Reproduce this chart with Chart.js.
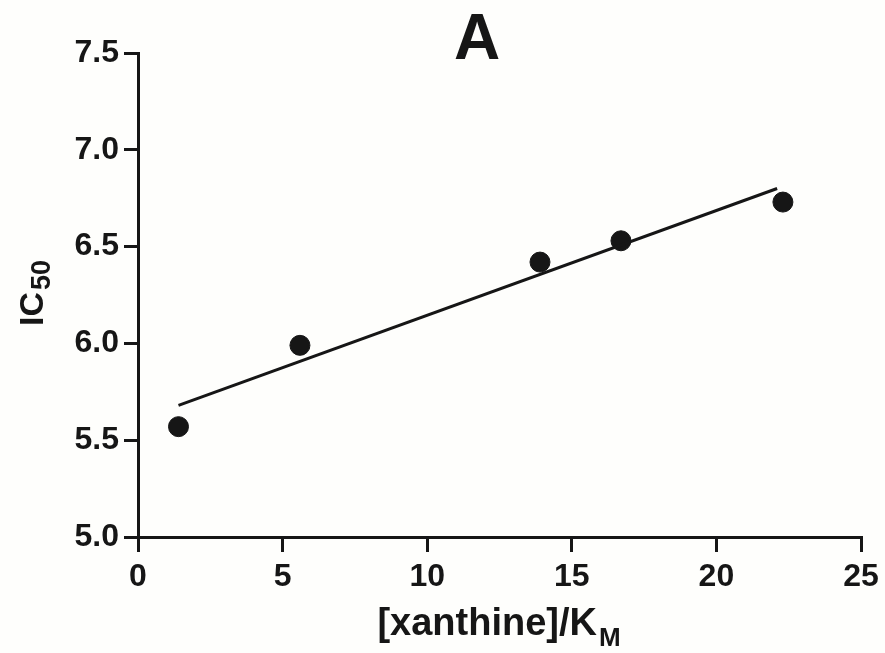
<!DOCTYPE html>
<html>
<head>
<meta charset="utf-8">
<script src="https://cdn.jsdelivr.net/npm/chart.js@4/dist/chart.umd.min.js"></script>
<style>
  html, body { margin: 0; padding: 0; background: #fefefc; }
  #wrap { width: 885px; height: 653px; }
</style>
</head>
<body>
<div id="wrap"><canvas id="myChart" width="885" height="653"></canvas></div>
<script>
// measured points
var xanthine = [1.4, 5.6, 13.9, 16.7, 22.3];
var ic50 = [5.57, 5.99, 6.42, 6.53, 6.73];
// regression line end points as drawn
var fitX = [1.4, 22.1];
var fitY = [5.68, 6.80];

var xTicks = [0, 5, 10, 15, 20, 25];
var yTicks = [5.0, 5.5, 6.0, 6.5, 7.0, 7.5];

var ink = '#161616';
var font = 'Arial, "Liberation Sans", sans-serif';

var pts = [], fit = [];
for (var i = 0; i < xanthine.length; i++) pts.push({x: xanthine[i], y: ic50[i]});
for (var j = 0; j < fitX.length; j++) fit.push({x: fitX[j], y: fitY[j]});

// draws the panel letter and the axis titles (they need subscripts)
var labelsPlugin = {
  id: 'labels',
  afterDraw: function (chart) {
    var ctx = chart.ctx;
    ctx.save();
    ctx.fillStyle = ink;

    ctx.font = 'bold 64px ' + font;
    ctx.textAlign = 'center';
    ctx.textBaseline = 'alphabetic';
    ctx.fillText('A', 477, 59);

    // x title
    ctx.textAlign = 'left';
    ctx.font = 'bold 38px ' + font;
    var main = '[xanthine]/K';
    var w = ctx.measureText(main).width;
    ctx.font = 'bold 26px ' + font;
    var ws = ctx.measureText('M').width;
    var x0 = 499 - (w + ws + 2) / 2;
    ctx.font = 'bold 38px ' + font;
    ctx.fillText(main, x0, 635);
    ctx.font = 'bold 26px ' + font;
    ctx.fillText('M', x0 + w + 2, 646);

    // y title, rotated
    ctx.translate(43, 293);
    ctx.rotate(-Math.PI / 2);
    ctx.font = 'bold 34px ' + font;
    var w2 = ctx.measureText('IC').width;
    ctx.font = 'bold 27px ' + font;
    var ws2 = ctx.measureText('50').width;
    var y0 = -(w2 + ws2 + 2) / 2;
    ctx.font = 'bold 34px ' + font;
    ctx.fillText('IC', y0, 0);
    ctx.font = 'bold 27px ' + font;
    ctx.fillText('50', y0 + w2 + 2, 7);
    ctx.restore();
  }
};

var config = {
  type: 'scatter',
  data: {
    datasets: [{
      label: 'fit',
      data: fit,
      showLine: true,
      borderColor: ink,
      borderWidth: 3,
      pointRadius: 0,
      fill: false
    }, {
      label: 'IC50',
      data: pts,
      backgroundColor: ink,
      borderColor: ink,
      pointRadius: 10,
      pointHoverRadius: 10
    }]
  },
  plugins: [labelsPlugin],
  options: {
    responsive: false,
    animation: false,
    layout: { padding: { top: 53, right: 24, left: 0, bottom: 0 } },
    plugins: {
      legend: { display: false },
      tooltip: { enabled: false },
      title: { display: false }
    },
    scales: {
      x: {
        type: 'linear',
        min: 0, max: 25,
        afterFit: function (s) { s.height = 116; },
        afterBuildTicks: function (s) { s.ticks = xTicks.map(function (v) { return {value: v}; }); },
        border: { display: true, color: ink, width: 3 },
        grid: { drawOnChartArea: false, drawTicks: true, tickLength: 15, color: ink, lineWidth: 3 },
        ticks: {
          color: ink,
          font: { family: font, size: 32, weight: 'bold' },
          padding: 6,
          maxRotation: 0,
          callback: function (v) { return v; }
        }
      },
      y: {
        type: 'linear',
        min: 5.0, max: 7.5,
        afterFit: function (s) { s.width = 138; },
        afterBuildTicks: function (s) { s.ticks = yTicks.map(function (v) { return {value: v}; }); },
        border: { display: true, color: ink, width: 3 },
        grid: { drawOnChartArea: false, drawTicks: true, tickLength: 14, color: ink, lineWidth: 3 },
        ticks: {
          color: ink,
          font: { family: font, size: 32, weight: 'bold' },
          padding: 5,
          callback: function (v) { return Number(v).toFixed(1); }
        }
      }
    }
  }
};

var myChart = new Chart(document.getElementById('myChart'), config);
</script>
</body>
</html>
